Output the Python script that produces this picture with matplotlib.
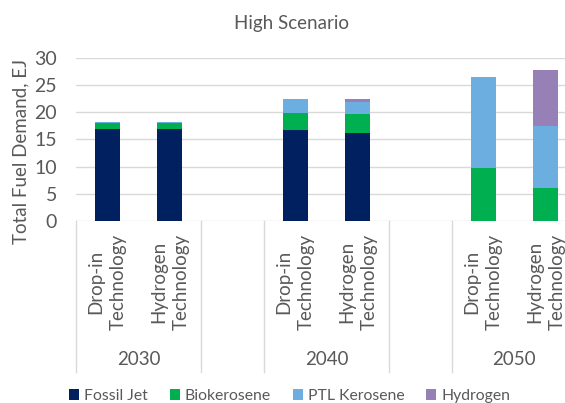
import matplotlib
matplotlib.use("Agg")
import matplotlib.pyplot as plt
from matplotlib.patches import Patch

plt.rcParams['font.family'] = ['Lato', 'DejaVu Sans']

# Data
years = ["2030", "2040", "2050"]
technologies = ["Drop-in\nTechnology", "Hydrogen\nTechnology"]
series_names = ["Fossil Jet", "Biokerosene", "PTL Kerosene", "Hydrogen"]
# order: 2030 drop-in, 2030 hydrogen, 2040 drop-in, 2040 hydrogen, 2050 drop-in, 2050 hydrogen
fossil_jet = [16.9, 16.9, 16.7, 16.1, 0.0, 0.0]
biokerosene = [1.15, 1.15, 3.2, 3.5, 9.8, 6.0]
ptl_kerosene = [0.1, 0.1, 2.5, 2.3, 16.6, 11.5]
hydrogen = [0.0, 0.0, 0.0, 0.5, 0.0, 10.3]
y_ticks = [0, 5, 10, 15, 20, 25, 30]

colors = ["#002060", "#00B050", "#6CAEE0", "#9680B5"]
text_color = "#595959"
grid_color = "#D9D9D9"

W, H = 565, 403
fig = plt.figure(figsize=(W / 100, H / 100), dpi=100)
ax = fig.add_axes([76 / W, 1 - 221 / H, 501 / W, (221 - 57.7) / H])

# slot positions: two technologies per year, one empty slot between years
slots_per_year = len(technologies) + 1
positions = [yi * slots_per_year + ti for yi in range(len(years)) for ti in range(len(technologies))]

bottom = [0.0] * len(positions)
for vals, col in zip([fossil_jet, biokerosene, ptl_kerosene, hydrogen], colors):
    ax.bar(positions, vals, width=0.4, bottom=bottom, color=col, linewidth=0, zorder=3)
    bottom = [b + v for b, v in zip(bottom, vals)]

n_slots = len(years) * slots_per_year - 1
ax.set_xlim(-0.5, n_slots - 0.5)
ax.set_ylim(0, 30)
ax.set_yticks(y_ticks)
ax.set_xticks([])
ax.tick_params(axis='y', length=0, pad=13.5, labelsize=14, labelcolor=text_color)
ax.yaxis.grid(True, color=grid_color, linewidth=1.0, zorder=0)
ax.set_axisbelow(True)
for s in ax.spines.values():
    s.set_visible(False)

# category axis: technology labels, year labels, separators
trans = ax.get_xaxis_transform()
ax_h_px = 221 - 57.7
tech_y = -(282 - 221) / ax_h_px
year_y = -(360 - 221) / ax_h_px
sep_bottom = -(372 - 221) / ax_h_px

for yi, year in enumerate(years):
    start = yi * slots_per_year
    for ti, tech in enumerate(technologies):
        ax.text(start + ti, tech_y, tech, transform=trans, rotation=90, ha='center', va='center',
                multialignment='center', fontsize=13.5, color=text_color, linespacing=1.4)
    ax.text(start + (len(technologies) - 1) / 2, year_y, year, transform=trans, ha='center', va='center',
            fontsize=13.5, color=text_color)

sep_positions = []
for yi in range(len(years)):
    start = yi * slots_per_year
    sep_positions += [start - 0.5, start + len(technologies) - 0.5]
for xs in sep_positions:
    ax.plot([xs, xs], [0, sep_bottom], transform=trans, color=grid_color, linewidth=1.0, clip_on=False)

fig.text(291 / W, 1 - 24 / H, "High Scenario", ha='center', va='center', fontsize=13.5, color=text_color)
fig.text(20.5 / W, 1 - 151 / H, "Total Fuel Demand, EJ", rotation=90, ha='center', va='center',
         fontsize=13.5, color=text_color)

handles = [Patch(facecolor=c, edgecolor='none', label=n) for c, n in zip(colors, series_names)]
leg = fig.legend(handles=handles, loc='center', bbox_to_anchor=(289.5 / W, 1 - 396 / H), ncol=4,
                 frameon=False, fontsize=11.3, handlelength=0.65, handleheight=0.65,
                 handletextpad=0.3, columnspacing=1.4, borderaxespad=0, borderpad=0)
for t in leg.get_texts():
    t.set_color(text_color)

fig.savefig("out.png", dpi=100)
